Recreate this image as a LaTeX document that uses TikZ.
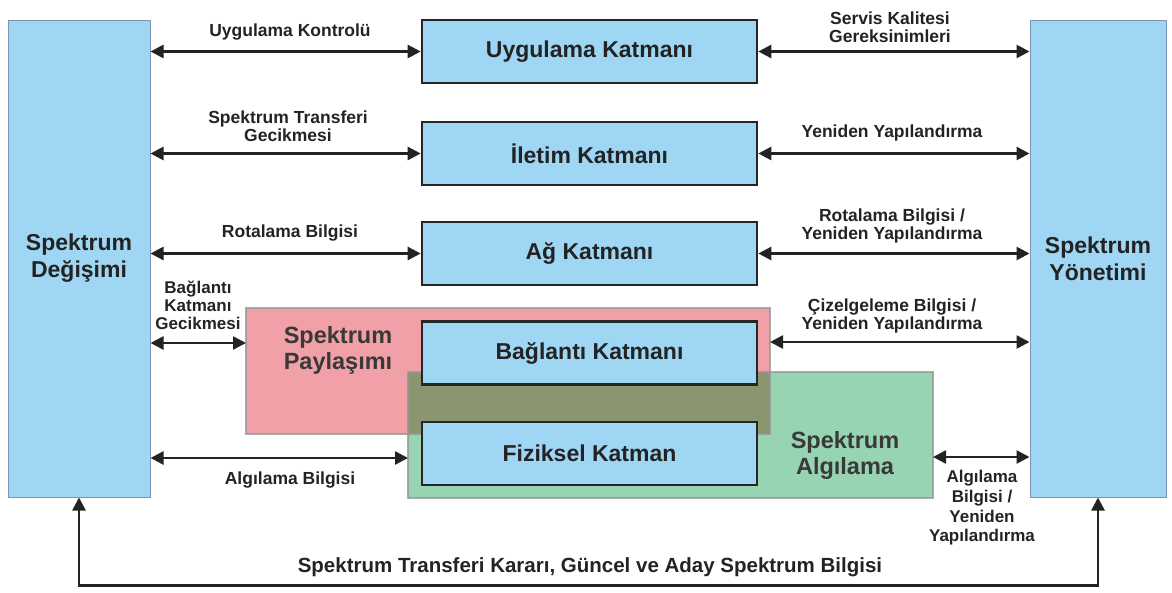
\documentclass[tikz,border=0pt]{standalone}
\usepackage{fontspec}
\setmainfont{Liberation Sans}
\usetikzlibrary{arrows.meta}
\definecolor{boxblue}{RGB}{158,214,244}
\definecolor{sideedge}{RGB}{120,150,175}
\definecolor{sharered}{RGB}{240,160,166}
\definecolor{sensegreen}{RGB}{150,212,178}
\definecolor{overlapc}{RGB}{138,150,112}
\definecolor{zoneedge}{RGB}{150,150,150}
\definecolor{ink}{RGB}{35,35,35}
\tikzset{
  sidebox/.style={draw=sideedge, line width=1pt, fill=boxblue, minimum width=142pt, minimum height=477pt, inner sep=0pt,
    font=\bfseries\fontsize{23}{27}\selectfont, text=ink, align=center},
  layerbox/.style={draw=black!85, line width=2.6pt, fill=boxblue, minimum width=335pt, minimum height=63pt, inner sep=0pt,
    font=\bfseries\fontsize{23}{26}\selectfont, text=ink},
  zonetitle/.style={font=\bfseries\fontsize{23.5}{26}\selectfont, text=ink!90, align=center},
  lbl/.style={font=\bfseries\fontsize{17.5}{18.5}\selectfont, text=ink, align=center, inner sep=0pt},
  arr/.style={draw=ink, line width=2.6pt, {Triangle[length=13pt,width=13pt]}-{Triangle[length=13pt,width=13pt]}},
}
\begin{document}
\begin{tikzpicture}[x=1pt,y=-1pt]
\useasboundingbox (0,0) rectangle (1172,592);

% side blocks
\node[sidebox] (L) at (79,258.5) {Spektrum\\Değişimi};
\node[sidebox, minimum width=136pt] (R) at (1098,258.5) {Spektrum\\Yönetimi};

% spectrum sharing and sensing zones
\node[fill=sharered, minimum width=524pt, minimum height=126pt, inner sep=0pt] (share) at (508,371) {};
\node[fill=sensegreen, minimum width=525pt, minimum height=126pt, inner sep=0pt] (sense) at (670.5,435) {};
\fill[overlapc] (sense.north west) rectangle (share.south east);
\draw[zoneedge, line width=2pt, opacity=0.8] (share.north west) rectangle (share.south east);
\draw[zoneedge, line width=2pt, opacity=0.8] (sense.north west) rectangle (sense.south east);
\node[zonetitle] (shareT) at (338,350) {Spektrum\\Paylaşımı};
\node[zonetitle] (senseT) at (845,455) {Spektrum\\Algılama};

% protocol layers
\node[layerbox] (U) at (589.5,51.5) {Uygulama Katmanı};
\node[layerbox] (I) at (589.5,153.5) {İletim Katmanı};
\node[layerbox] (A) at (589.5,253.5) {Ağ Katmanı};
\node[layerbox] (B) at (589.5,353) {Bağlantı Katmanı};
\node[layerbox] (F) at (589.5,453.5) {Fiziksel Katman};

% connectors to the spectrum mobility block
\draw[arr] (L.east |- U.west) -- (U.west);
\draw[arr] (L.east |- I.west) -- (I.west);
\draw[arr] (L.east |- A.west) -- (A.west);
\coordinate (bl) at (246,343);
\draw[arr] (L.east |- bl) -- (bl);
\coordinate (fl) at (408,458);
\draw[arr] (L.east |- fl) -- (fl);

% connectors to the spectrum management block
\draw[arr] (U.east) -- (R.west |- U.east);
\draw[arr] (I.east) -- (R.west |- I.east);
\draw[arr] (A.east) -- (R.west |- A.east);
\coordinate (br) at (770,342);
\draw[arr] (br) -- (R.west |- br);
\coordinate (fr) at (933,457);
\draw[arr] (fr) -- (R.west |- fr);

% feedback loop along the bottom
\draw[arr] (L.south) -- ++(0,88) coordinate (loopl) -| (R.south);

% connector labels
\node[lbl] (t1) at (290,32) {Uygulama Kontrolü};
\node[lbl] (t2) at (890,27) {Servis Kalitesi\\Gereksinimleri};
\node[lbl] (t3) at (288,126) {Spektrum Transferi\\Gecikmesi};
\node[lbl] (t4) at (892,133) {Yeniden Yapılandırma};
\node[lbl] (t5) at (290,233) {Rotalama Bilgisi};
\node[lbl] (t6) at (892,226) {Rotalama Bilgisi /\\Yeniden Yapılandırma};
\node[lbl, font=\bfseries\fontsize{17}{18}\selectfont] (t7) at (198,305) {Bağlantı\\Katmanı\\Gecikmesi};
\node[lbl] (t8) at (892,316) {Çizelgeleme Bilgisi /\\Yeniden Yapılandırma};
\node[lbl] (t9) at (290,480) {Algılama Bilgisi};
\node[lbl, font=\bfseries\fontsize{17}{19.7}\selectfont] (t10) at (982,508) {Algılama\\Bilgisi /\\Yeniden\\Yapılandırma};
\node[lbl, font=\bfseries\fontsize{20.5}{22}\selectfont] (t11) at (590,567) {Spektrum Transferi Kararı, Güncel ve Aday Spektrum Bilgisi};
\end{tikzpicture}
\end{document}
